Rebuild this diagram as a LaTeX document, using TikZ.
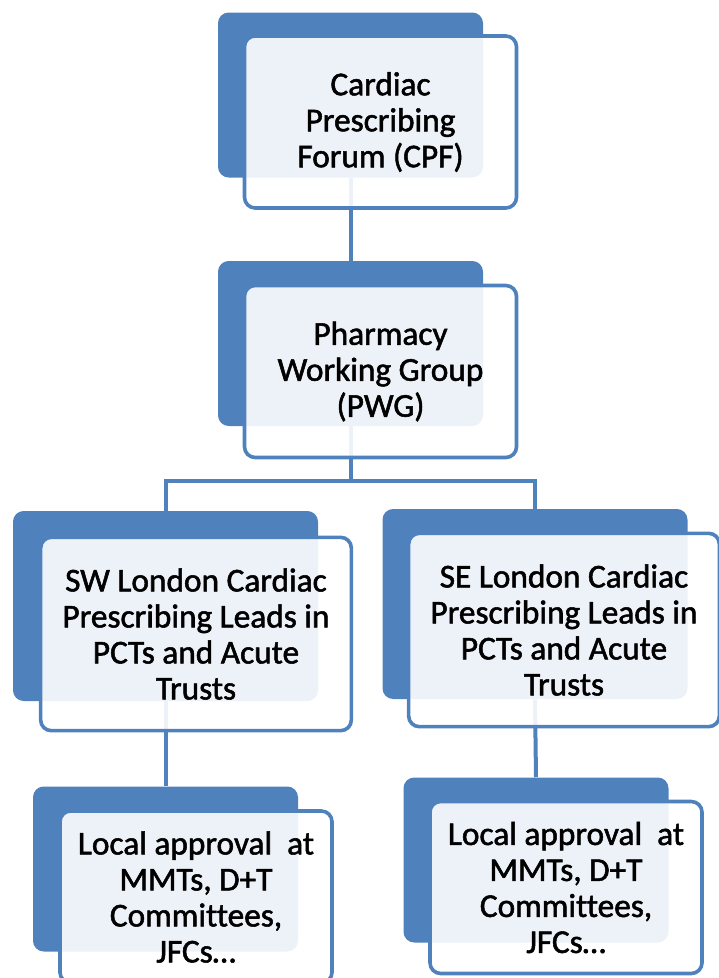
\documentclass[tikz,border=0pt]{standalone}
\usepackage{fontspec}
\setmainfont{Carlito}[Ligatures=NoCommon, FakeBold=1.6]
\usetikzlibrary{positioning,calc}
\definecolor{orgblue}{RGB}{79,129,189}
\tikzset{
  backbox/.style={fill=orgblue, rounded corners=8pt, inner sep=0,
    minimum width=198.75pt, minimum height=123.75pt},
  frontbox/.style={draw=orgblue, line width=2.7pt, fill=white,
    fill opacity=0.9, text opacity=1, rounded corners=8pt, inner sep=0,
    align=center, minimum width=204pt, minimum height=129pt,
    font=\fontsize{25}{27}\selectfont},
  wideback/.style={minimum width=228.75pt, minimum height=142.5pt},
  widefront/.style={minimum width=233pt, minimum height=145pt},
  link/.style={draw=orgblue, line width=3pt}
}
\begin{document}
\begin{tikzpicture}[x=0.75pt, y=-0.75pt]
  \useasboundingbox (0,0) rectangle (718,978);
  % back plates
  \node[backbox] (cpfback) at (350.5,95) {};
  \node[backbox] (pwgback) at (350.5,343.5) {};
  \node[backbox, wideback] (swback) at (165.5,606) {};
  \node[backbox, wideback] (seback) at (535,604) {};
  \node[backbox] (localswback) at (165.5,869) {};
  \node[backbox] (localseback) at (536,860) {};
  % connectors
  \coordinate (fork) at (350.5,481);
  \draw[link] (cpfback.south) -- (pwgback.north);
  \draw[link] (pwgback.south) -- (fork);
  \draw[link] (swback.north) |- (fork) -| (seback.north);
  \draw[link] (swback.south) -- (localswback.north);
  \draw[link] (seback.south) -- (localseback.north);
  % front boxes
  \node[frontbox] (cpf) at ($(cpfback)+(30,27)$)
    {Cardiac\\Prescribing\\Forum (CPF)};
  \node[frontbox] (pwg) at ($(pwgback)+(30,28)$)
    {Pharmacy\\Working Group\\(PWG)};
  \node[frontbox, widefront] (sw) at ($(swback)+(30.5,28)$)
    {SW London Cardiac\\Prescribing Leads in\\PCTs and Acute\\Trusts};
  \node[frontbox, widefront] (se) at ($(seback)+(29,26)$)
    {SE London Cardiac\\Prescribing Leads in\\PCTs and Acute\\Trusts};
  \node[frontbox] (localsw) at ($(localswback)+(30.5,28)$)
    {Local approval\ \ at\\MMTs, D+T\\Committees,\\JFCs\dots};
  \node[frontbox] (localse) at ($(localseback)+(30,27.5)$)
    {Local approval\ \ at\\MMTs, D+T\\Committees,\\JFCs\dots};
\end{tikzpicture}
\end{document}
